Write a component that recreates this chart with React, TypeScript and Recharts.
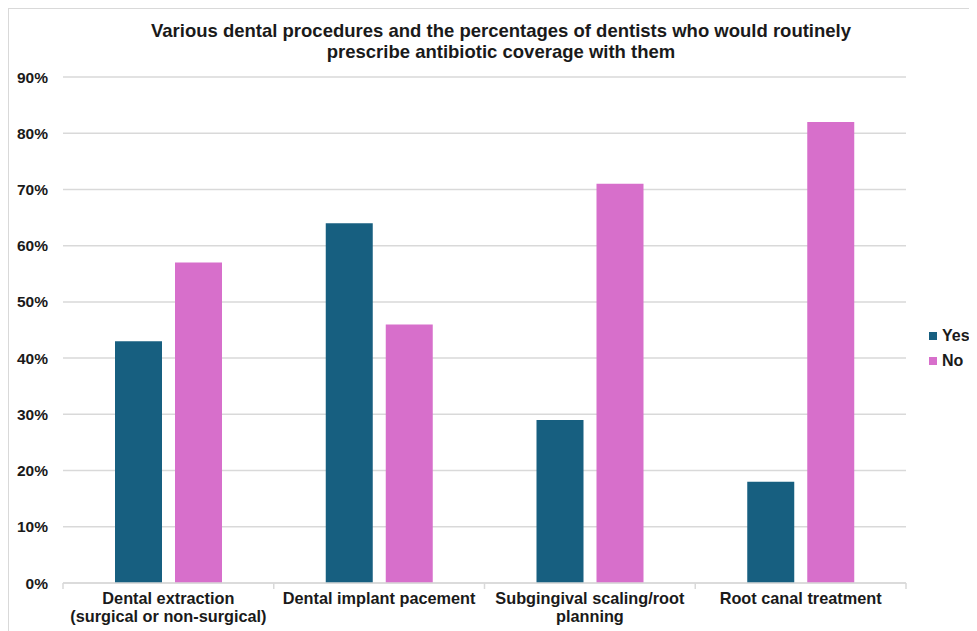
import React from "react";
import { BarChart, Bar, XAxis, YAxis, CartesianGrid, Legend } from "recharts";

const procedures = [
  "Dental extraction (surgical or non-surgical)",
  "Dental implant pacement",
  "Subgingival scaling/root planning",
  "Root canal treatment",
];
// wrapped label lines for the category axis
const procedureLines = [
  ["Dental extraction", "(surgical or non-surgical)"],
  ["Dental implant pacement"],
  ["Subgingival scaling/root", "planning"],
  ["Root canal treatment"],
];
const yesValues = [43, 64, 29, 18];
const noValues = [57, 46, 71, 82];
const percentTicks = [0, 10, 20, 30, 40, 50, 60, 70, 80, 90];

const titleLines = [
  "Various dental procedures and the percentages of dentists who would routinely",
  "prescribe antibiotic coverage with them",
];

const YES_COLOR = "#175f80";
const NO_COLOR = "#d76fcb";
const GRID = "#d9d9d9";
const FONT = "'Liberation Sans', Arial, sans-serif";

const data = procedures.map((name, i) => ({
  name,
  yes: yesValues[i],
  no: noValues[i],
}));

// category label plus the small divider ticks on each side of the band
const CategoryTick = (props: any) => {
  const { x, y, index, payload } = props;
  const lines = procedureLines[index] ?? [];
  const half = payload?.offset ?? 0;
  return (
    <g transform={`translate(${x},${y})`}>
      <line x1={-half} x2={-half} y1={-8} y2={-2} stroke={GRID} strokeWidth={1.5} />
      {index === procedureLines.length - 1 && (
        <line x1={half} x2={half} y1={-8} y2={-2} stroke={GRID} strokeWidth={1.5} />
      )}
      {lines.map((line, i) => (
        <text
          key={i}
          x={0}
          y={i * 18}
          dy={13}
          textAnchor="middle"
          fill="#1a1a1a"
          fontSize={16.3}
          fontWeight="bold"
          fontFamily={FONT}
        >
          {line}
        </text>
      ))}
    </g>
  );
};

const LegendBox = () => (
  <div style={{ fontFamily: FONT, fontWeight: "bold", fontSize: 16, color: "#1a1a1a" }}>
    {[
      { label: "Yes", color: YES_COLOR },
      { label: "No", color: NO_COLOR },
    ].map((item) => (
      <div key={item.label} style={{ display: "flex", alignItems: "center", height: 25 }}>
        <span style={{ width: 8, height: 8, background: item.color, marginRight: 5 }} />
        <span>{item.label}</span>
      </div>
    ))}
  </div>
);

export default function App() {
  return (
    <div
      style={{
        position: "relative",
        width: 968,
        height: 622,
        borderTop: `1px solid ${GRID}`,
        borderLeft: `1px solid ${GRID}`,
        background: "#fff",
      }}
    >
      <div
        style={{
          position: "absolute",
          left: 16,
          top: 11,
          width: 952,
          textAlign: "center",
          fontFamily: FONT,
          fontWeight: "bold",
          fontSize: 18.5,
          lineHeight: "21px",
          color: "#1a1a1a",
        }}
      >
        {titleLines.map((t) => (
          <div key={t}>{t}</div>
        ))}
      </div>
      <BarChart
        width={968}
        height={622}
        data={data}
        margin={{ top: 68, right: 26, left: 0, bottom: 0 }}
        barSize={47}
        barGap={13}
      >
        <CartesianGrid horizontal vertical={false} stroke={GRID} strokeWidth={1.5} />
        <XAxis
          dataKey="name"
          height={48}
          interval={0}
          tickLine={false}
          axisLine={{ stroke: GRID, strokeWidth: 1.5 }}
          tick={<CategoryTick />}
        />
        <YAxis
          width={54}
          domain={[0, 90]}
          ticks={percentTicks}
          tickFormatter={(v: number) => `${v}%`}
          axisLine={false}
          tickLine={false}
          tickMargin={9}
          tick={{ fill: "#1a1a1a", fontSize: 15.5, fontWeight: "bold", fontFamily: FONT }}
        />
        <Legend
          layout="horizontal"
          verticalAlign="middle"
          align="right"
          content={<LegendBox />}
          wrapperStyle={{ left: 920, top: 314, width: 45 }}
        />
        <Bar dataKey="yes" name="Yes" fill={YES_COLOR} isAnimationActive={false} />
        <Bar dataKey="no" name="No" fill={NO_COLOR} isAnimationActive={false} />
      </BarChart>
    </div>
  );
}
